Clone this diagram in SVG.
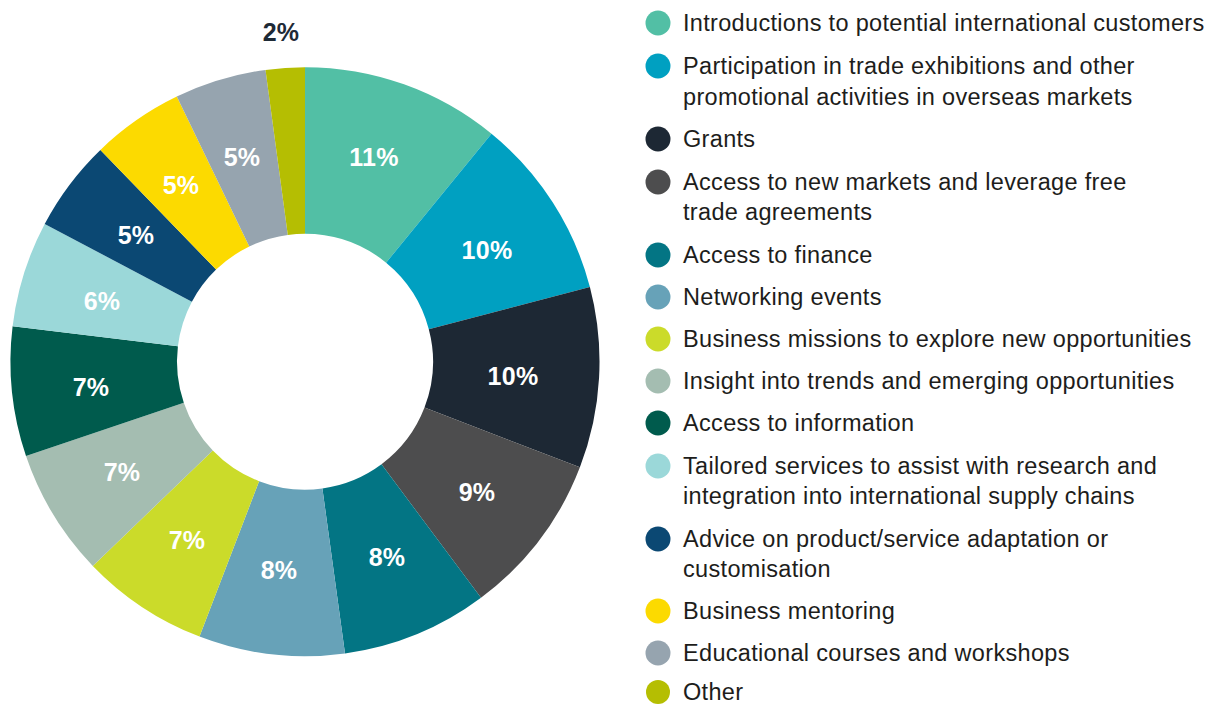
<svg xmlns="http://www.w3.org/2000/svg" width="1213" height="704" viewBox="0 0 1213 704">
<style>
.pct{font-family:"Liberation Sans",Arial,sans-serif;font-weight:bold;font-size:25px;fill:#ffffff;text-anchor:middle;letter-spacing:0.3px}
.leg{font-family:"Liberation Sans",Arial,sans-serif;font-size:23.5px;fill:#1d1d1b;letter-spacing:0.32px}
</style>
<rect width="1213" height="704" fill="#ffffff"/>
<g id="donut">
<g id="seg-intro"><path d="M305,67.2 A294.5,294.5 0 0 1 491.5,133.8 L386.1,262.7 A128,128 0 0 0 305,233.7 Z" fill="#52bfa5"/><text class="pct" x="374" y="166">11%</text></g>
<g id="seg-participation"><path d="M491.5,133.8 A294.5,294.5 0 0 1 589.9,287.0 L428.8,329.2 A128,128 0 0 0 386.1,262.7 Z" fill="#00a0c1"/><text class="pct" x="487" y="259">10%</text></g>
<g id="seg-grants"><path d="M589.9,287.0 A294.5,294.5 0 0 1 579.9,467.3 L424.5,407.6 A128,128 0 0 0 428.8,329.2 Z" fill="#1d2834"/><text class="pct" x="513" y="385">10%</text></g>
<g id="seg-markets"><path d="M579.9,467.3 A294.5,294.5 0 0 1 481.0,597.8 L381.5,464.3 A128,128 0 0 0 424.5,407.6 Z" fill="#4d4d4e"/><text class="pct" x="477" y="501">9%</text></g>
<g id="seg-finance"><path d="M481.0,597.8 A294.5,294.5 0 0 1 345.0,653.5 L322.4,488.5 A128,128 0 0 0 381.5,464.3 Z" fill="#037584"/><text class="pct" x="387" y="566">8%</text></g>
<g id="seg-networking"><path d="M345.0,653.5 A294.5,294.5 0 0 1 199.5,636.6 L259.1,481.2 A128,128 0 0 0 322.4,488.5 Z" fill="#67a2b8"/><text class="pct" x="279" y="579">8%</text></g>
<g id="seg-missions"><path d="M199.5,636.6 A294.5,294.5 0 0 1 92.8,565.9 L212.8,450.5 A128,128 0 0 0 259.1,481.2 Z" fill="#cbdb2a"/><text class="pct" x="187" y="549">7%</text></g>
<g id="seg-insight"><path d="M92.8,565.9 A294.5,294.5 0 0 1 26.0,456.1 L183.8,402.7 A128,128 0 0 0 212.8,450.5 Z" fill="#a4bdb1"/><text class="pct" x="122" y="481">7%</text></g>
<g id="seg-information"><path d="M26.0,456.1 A294.5,294.5 0 0 1 12.6,326.3 L177.9,346.3 A128,128 0 0 0 183.8,402.7 Z" fill="#005b4d"/><text class="pct" x="91" y="396">7%</text></g>
<g id="seg-tailored"><path d="M12.6,326.3 A294.5,294.5 0 0 1 44.7,223.9 L191.9,301.8 A128,128 0 0 0 177.9,346.3 Z" fill="#9bd8d9"/><text class="pct" x="102" y="310">6%</text></g>
<g id="seg-advice"><path d="M44.7,223.9 A294.5,294.5 0 0 1 100.4,149.9 L216.1,269.6 A128,128 0 0 0 191.9,301.8 Z" fill="#0b4873"/><text class="pct" x="136" y="244">5%</text></g>
<g id="seg-mentoring"><path d="M100.4,149.9 A294.5,294.5 0 0 1 176.8,96.6 L249.3,246.5 A128,128 0 0 0 216.1,269.6 Z" fill="#fcda00"/><text class="pct" x="181" y="194">5%</text></g>
<g id="seg-educational"><path d="M176.8,96.6 A294.5,294.5 0 0 1 265.5,69.9 L287.8,234.9 A128,128 0 0 0 249.3,246.5 Z" fill="#96a4af"/><text class="pct" x="242" y="166">5%</text></g>
<g id="seg-other"><path d="M265.5,69.9 A294.5,294.5 0 0 1 305,67.2 L305,233.7 A128,128 0 0 0 287.8,234.9 Z" fill="#b5be02"/><text class="pct" x="281" y="40.5" style="fill:#1e2a36">2%</text></g>
</g>
<g id="legend">
<g id="leg-intro"><circle cx="658" cy="23" r="12.5" fill="#52bfa5"/><text class="leg" x="683" y="31">Introductions to potential international customers</text></g>
<g id="leg-participation"><circle cx="658" cy="66" r="12.5" fill="#00a0c1"/><text class="leg" x="683" y="74">Participation in trade exhibitions and other</text><text class="leg" x="683" y="105">promotional activities in overseas markets</text></g>
<g id="leg-grants"><circle cx="658" cy="139" r="12.5" fill="#1d2834"/><text class="leg" x="683" y="147">Grants</text></g>
<g id="leg-markets"><circle cx="658" cy="182" r="12.5" fill="#4d4d4e"/><text class="leg" x="683" y="190">Access to new markets and leverage free</text><text class="leg" x="683" y="220">trade agreements</text></g>
<g id="leg-finance"><circle cx="658" cy="255" r="12.5" fill="#037584"/><text class="leg" x="683" y="263">Access to finance</text></g>
<g id="leg-networking"><circle cx="658" cy="297" r="12.5" fill="#67a2b8"/><text class="leg" x="683" y="305">Networking events</text></g>
<g id="leg-missions"><circle cx="658" cy="339" r="12.5" fill="#cbdb2a"/><text class="leg" x="683" y="347">Business missions to explore new opportunities</text></g>
<g id="leg-insight"><circle cx="658" cy="381" r="12.5" fill="#a4bdb1"/><text class="leg" x="683" y="389">Insight into trends and emerging opportunities</text></g>
<g id="leg-information"><circle cx="658" cy="423" r="12.5" fill="#005b4d"/><text class="leg" x="683" y="431">Access to information</text></g>
<g id="leg-tailored"><circle cx="658" cy="466" r="12.5" fill="#9bd8d9"/><text class="leg" x="683" y="474">Tailored services to assist with research and</text><text class="leg" x="683" y="504">integration into international supply chains</text></g>
<g id="leg-advice"><circle cx="658" cy="539" r="12.5" fill="#0b4873"/><text class="leg" x="683" y="547">Advice on product/service adaptation or</text><text class="leg" x="683" y="577">customisation</text></g>
<g id="leg-mentoring"><circle cx="658" cy="611" r="12.5" fill="#fcda00"/><text class="leg" x="683" y="619">Business mentoring</text></g>
<g id="leg-educational"><circle cx="658" cy="653" r="12.5" fill="#96a4af"/><text class="leg" x="683" y="661">Educational courses and workshops</text></g>
<g id="leg-other"><circle cx="658" cy="692" r="12" fill="#b5be02"/><text class="leg" x="683" y="700">Other</text></g>
</g>
</svg>
